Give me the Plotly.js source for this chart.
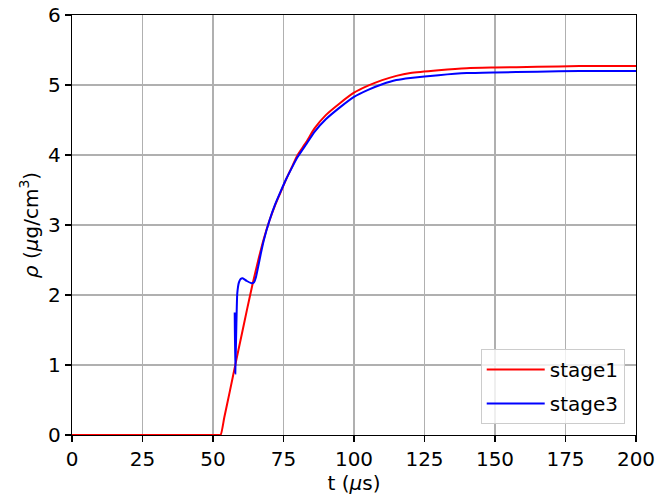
<!DOCTYPE html>
<html>
<head>
<meta charset="utf-8">
<script src="https://cdn.plot.ly/plotly-3.0.1.min.js"></script>
<style>html,body{margin:0;padding:0;background:#fff;}#chart{width:669px;height:495px;}</style>
</head>
<body>
<div id="chart"></div>
<script>
// stage1 (red)
const t1 = [0, 52, 52.7, 54, 56, 58, 60, 62, 64, 66, 68, 70, 72, 74, 76, 78, 80, 83, 86, 90, 95, 100, 105, 110, 115, 120, 130, 140, 150, 165, 180, 200];
const rho1 = [0, 0, 0, 0.25, 0.63, 1.02, 1.40, 1.78, 2.15, 2.49, 2.80, 3.06, 3.28, 3.47, 3.66, 3.83, 4.00, 4.18, 4.38, 4.57, 4.74, 4.89, 4.99, 5.07, 5.13, 5.17, 5.21, 5.24, 5.25, 5.26, 5.27, 5.27];
// stage3 (blue)
const t3 = [57.7, 57.9, 58.3, 58.6, 59.2, 59.8, 60.5, 62, 63.5, 64.5, 65.2, 66, 67, 68, 70, 72, 74, 76, 78, 80, 83, 86, 90, 95, 100, 105, 110, 115, 120, 130, 140, 150, 165, 180, 200];
const rho3 = [1.75, 0.88, 1.60, 2.02, 2.18, 2.23, 2.24, 2.20, 2.17, 2.18, 2.25, 2.40, 2.60, 2.78, 3.06, 3.29, 3.48, 3.66, 3.82, 3.97, 4.15, 4.33, 4.51, 4.68, 4.83, 4.93, 5.01, 5.07, 5.10, 5.14, 5.17, 5.18, 5.19, 5.20, 5.20];

const xTicks = [0, 25, 50, 75, 100, 125, 150, 175, 200];
const yTicks = [0, 1, 2, 3, 4, 5, 6];

const font = {family: 'DejaVu Sans, sans-serif', size: 20, color: '#000'};

const traces = [
  {x: t1, y: rho1, name: 'stage1', legendgroup: 'a', mode: 'lines', line: {color: '#ff0000', width: 2, shape: 'spline', smoothing: 0.6}},
  {x: t3, y: rho3, name: 'stage3', legendgroup: 'b', mode: 'lines', line: {color: '#0000ff', width: 2, shape: 'spline', smoothing: 0.4}}
];

const axisCommon = {
  showline: true, linecolor: '#000', linewidth: 1.3, mirror: true,
  ticks: 'outside', ticklen: 6, tickwidth: 1.3, tickcolor: '#000',
  showgrid: true, gridcolor: '#b0b0b0', gridwidth: 1.6,
  zeroline: false, tickfont: font
};

const layout = {
  width: 669, height: 495,
  margin: {l: 72, r: 33, t: 15, b: 60},
  paper_bgcolor: '#fff', plot_bgcolor: '#fff',
  font: font,
  showlegend: true,
  legend: {
    x: 0.98, y: 0.026, xanchor: 'right', yanchor: 'bottom',
    bgcolor: 'rgba(255,255,255,0.8)', bordercolor: '#cccccc', borderwidth: 1,
    font: font, itemwidth: 58, tracegroupgap: 5
  },
  xaxis: Object.assign({}, axisCommon, {
    range: [0, 200], tickvals: xTicks, ticktext: xTicks.map(String),
    title: {text: 't (<i>μ</i>s)', font: font, standoff: 2}
  }),
  yaxis: Object.assign({}, axisCommon, {
    range: [0, 6], tickvals: yTicks, ticktext: yTicks.map(String),
    title: {text: '<i>ρ</i> (<i>μ</i>g/cm<sup>3</sup>)', font: font, standoff: 4}
  })
};

Plotly.newPlot('chart', traces, layout, {displayModeBar: false, staticPlot: true});
</script>
</body>
</html>
